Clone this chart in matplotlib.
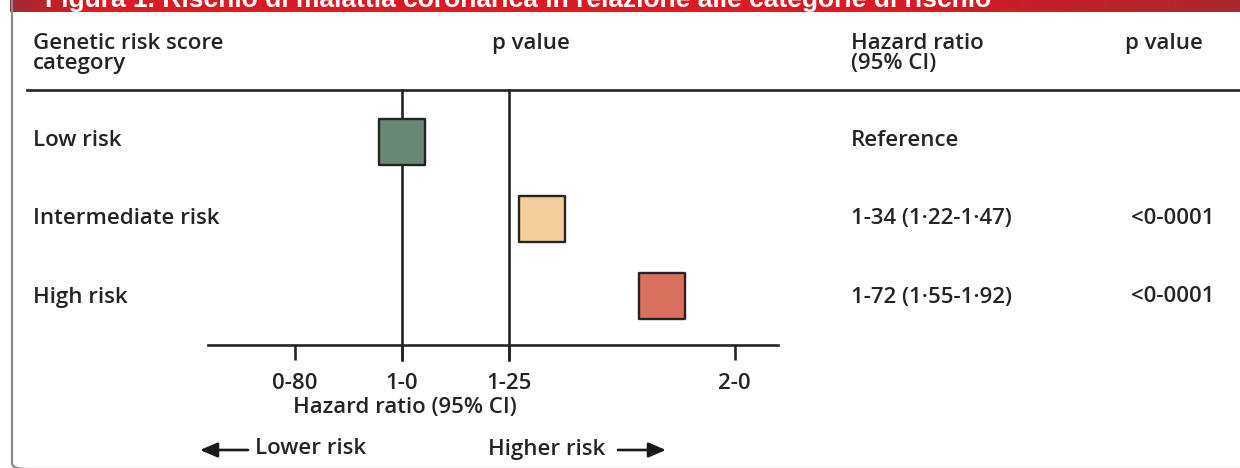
import numpy as np
import matplotlib
matplotlib.use("Agg")
import matplotlib.pyplot as plt
from matplotlib.lines import Line2D
from matplotlib.patches import FancyArrowPatch, FancyBboxPatch
from matplotlib.ticker import FixedLocator, FixedFormatter, NullLocator

# ---------------- data ----------------
title = "Figura 1. Rischio di malattia coronarica in relazione alle categorie di rischio"
categories = ["Low risk", "Intermediate risk", "High risk"]
hazard_ratios = [1.0, 1.34, 1.72]
hr_text = ["Reference", "1-34 (1·22-1·47)", "1-72 (1·55-1·92)"]
p_text = ["", "<0-0001", "<0-0001"]
box_colors = ["#6b8877", "#f1cd9a", "#d9705e"]
tick_values = [0.80, 1.0, 1.25, 2.0]
tick_labels = ["0-80", "1-0", "1-25", "2-0"]
ref_lines = [1.0, 1.25]

W, H = 1240, 468
DARK = "#262324"
FONT = "Open Sans"
FS = 16

fig = plt.figure(figsize=(W / 100, H / 100), dpi=100)
fig.patch.set_facecolor("white")


def P(x, y):
    return (x / W, 1 - y / H)


# ---------------- banner ----------------
bax = fig.add_axes([10 / W, 1 - 12 / H, (W - 10) / W, 12 / H])
n = 600
c_main = np.array([0xd8, 0x1b, 0x24]) / 255
c_dark = np.array([0xa3, 0x2b, 0x31]) / 255
t = np.linspace(0, 1, n)
w = np.clip(1 - t / 0.06, 0, 1) + np.clip((t - 0.72) / 0.28, 0, 1) * 0.85
w = np.clip(w, 0, 1)
grad = (c_main[None, :] * (1 - w[:, None]) + c_dark[None, :] * w[:, None])[None, :, :]
bax.imshow(grad, aspect="auto", extent=[0, 1, 0, 1])
bax.set_axis_off()
fig.text(*P(45, 7), title, color="white", fontsize=19, fontweight="bold",
         family="Liberation Sans", va="baseline", ha="left")

# ---------------- frame ----------------
frame = FancyBboxPatch(P(12, 469), (W + 40) / W, 480 / H,
                       boxstyle="round,pad=0,rounding_size=0.012",
                       transform=fig.transFigure, fill=False,
                       edgecolor="#8c8c8c", lw=1.6, clip_on=False)
fig.add_artist(frame)

# ---------------- headers ----------------
hdr_kw = dict(fontsize=FS, fontweight="semibold", family=FONT, color=DARK,
              va="center", ha="left", linespacing=0.95)
fig.text(*P(33, 53.5), "Genetic risk score\ncategory", **hdr_kw)
fig.text(*P(492, 43), "p value", **hdr_kw)
fig.text(*P(851, 53.5), "Hazard ratio\n(95% CI)", **hdr_kw)
fig.text(*P(1125, 43), "p value", **hdr_kw)
fig.add_artist(Line2D([27 / W, 1.0], [1 - 90 / H, 1 - 90 / H],
                      transform=fig.transFigure, color=DARK, lw=1.9))

# ---------------- forest axes ----------------
x_left, x_right, y_top, y_bot = 208, 778, 90, 345
ax = fig.add_axes([x_left / W, 1 - y_bot / H, (x_right - x_left) / W, (y_bot - y_top) / H])
ax.set_xscale("log")
ax.set_xlim(0.6675, 2.189)
row_pos = np.arange(len(categories))
ax.set_ylim((y_bot - 142) / 77, (y_top - 142) / 77)
ax.patch.set_alpha(0)
for s in ["top", "left", "right"]:
    ax.spines[s].set_visible(False)
ax.spines["bottom"].set_linewidth(1.9)
ax.spines["bottom"].set_color(DARK)
ax.yaxis.set_visible(False)
ax.xaxis.set_major_locator(FixedLocator(tick_values))
ax.xaxis.set_major_formatter(FixedFormatter(tick_labels))
ax.xaxis.set_minor_locator(NullLocator())
ax.tick_params(axis="x", direction="out", length=11, width=1.9, color=DARK,
               pad=9.5, labelsize=FS, labelcolor=DARK)
for lab in ax.get_xticklabels():
    lab.set_fontfamily(FONT)
    lab.set_fontweight("semibold")

for v in ref_lines:
    ax.axvline(v, ymin=-15 / (y_bot - y_top), ymax=1, color=DARK, lw=1.9,
               clip_on=False, zorder=1)

ax.scatter(hazard_ratios, row_pos, marker="s", s=1100, c=box_colors,
           edgecolors=DARK, linewidths=1.7, zorder=3, clip_on=False)

ax.set_xlabel("Hazard ratio (95% CI)", fontsize=FS, fontweight="semibold",
              family=FONT, color=DARK)
ax.xaxis.set_label_coords((405 - x_left) / (x_right - x_left), (y_bot - 408) / (y_bot - y_top))
ax.xaxis.label.set_va("center")

# ---------------- row texts ----------------
row_kw = dict(fontsize=FS, fontweight="semibold", family=FONT, color=DARK,
              va="center", ha="left")
for i, (cat, hr, p) in enumerate(zip(categories, hr_text, p_text)):
    ypix = 140 + i * 78.5
    fig.text(*P(33, ypix), cat, **row_kw)
    fig.text(*P(851, ypix), hr, **row_kw)
    if p:
        fig.text(*P(1131, ypix), p, **row_kw)

# ---------------- risk arrows ----------------
fig.text(*P(255, 449), "Lower risk", **row_kw)
fig.text(*P(488, 449), "Higher risk", **row_kw)
arrow_kw = dict(transform=fig.transFigure, arrowstyle="-|>,head_length=0.75,head_width=0.32",
                mutation_scale=14, lw=1.9, color="#1a1a1a", shrinkA=0, shrinkB=0)
fig.add_artist(FancyArrowPatch(P(248, 450), P(200, 450), **arrow_kw))
fig.add_artist(FancyArrowPatch(P(618, 450), P(666, 450), **arrow_kw))

fig.savefig("out.png", dpi=100)
